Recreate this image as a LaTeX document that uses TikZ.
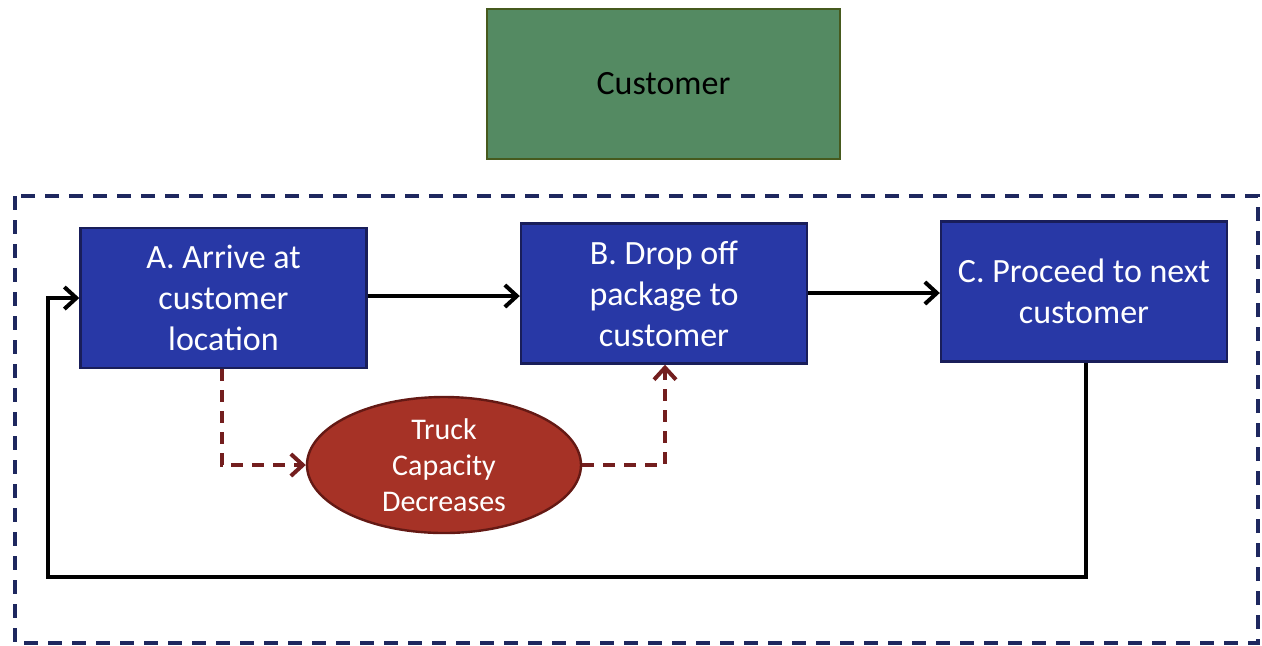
\documentclass[tikz,border=0pt]{standalone}
\usepackage{fontspec}
\setmainfont{Carlito}
\usetikzlibrary{shapes.geometric,arrows.meta}
\definecolor{stepblue}{RGB}{40,56,166}
\definecolor{stepedge}{RGB}{25,30,90}
\definecolor{custgreen}{RGB}{84,138,98}
\definecolor{custedge}{RGB}{70,90,30}
\definecolor{capred}{RGB}{166,50,38}
\definecolor{capedge}{RGB}{100,25,20}
\definecolor{dashred}{RGB}{115,30,30}
\definecolor{framenavy}{RGB}{30,40,95}
\tikzset{
  stepbox/.style={draw=stepedge, line width=1.2pt, fill=stepblue, text=white,
    minimum width=143pt, minimum height=70pt, align=center, inner sep=2pt,
    font=\fontsize{17}{20.5}\selectfont},
  custbox/.style={draw=custedge, line width=1.2pt, fill=custgreen, text=black,
    minimum width=176.5pt, minimum height=75pt, font=\fontsize{17}{20.5}\selectfont},
  capnode/.style={ellipse, draw=capedge, line width=1.2pt, fill=capred, text=white,
    minimum width=137pt, minimum height=68pt, align=center, inner sep=0pt,
    font=\fontsize{15}{18}\selectfont},
  tip/.style={-{Straight Barb[length=6pt,width=11pt,line width=2pt]}},
  flow/.style={draw=black, line width=2pt, tip},
  effect/.style={draw=dashred, line width=2pt, dash pattern=on 6pt off 4.5pt, tip},
  frame/.style={draw=framenavy, line width=2pt, dash pattern=on 7pt off 5pt}
}
\begin{document}
\begin{tikzpicture}[x=0.5pt,y=-0.5pt]
  \useasboundingbox (0,0) rectangle (1262,645);
  % system boundary
  \draw[frame] (15,196) rectangle (1258,643);
  % external actor
  \node[custbox] (cust) at (663.5,84) {Customer};
  % process steps
  \node[stepbox] (a) at (223.5,298) {A. Arrive at\\customer\\location};
  \node[stepbox] (b) at (664,293.5) {B. Drop off\\package to\\customer};
  \node[stepbox] (c) at (1084,291.5) {C. Proceed to next\\customer};
  % side effect of the drop-off
  \node[capnode] (cap) at (444,465) {Truck\\Capacity\\Decreases};
  % main flow
  \draw[flow] (a.east |- 0,296) -- (b.west |- 0,296);
  \draw[flow] (b.east |- 0,293) -- (c.west |- 0,293);
  % return loop to the next customer
  \coordinate (loopR) at (1086,577);
  \coordinate (loopL) at (48,577);
  \draw[flow] (c.south -| loopR) -- (loopR) -- (loopL) -- (48,298) -- (a.west);
  % capacity update
  \draw[effect] (a.south -| 222,0) -- (222,465) -- (cap.west);
  \draw[effect] (cap.east) -- (665,465) -- (b.south -| 665,0);
\end{tikzpicture}
\end{document}
